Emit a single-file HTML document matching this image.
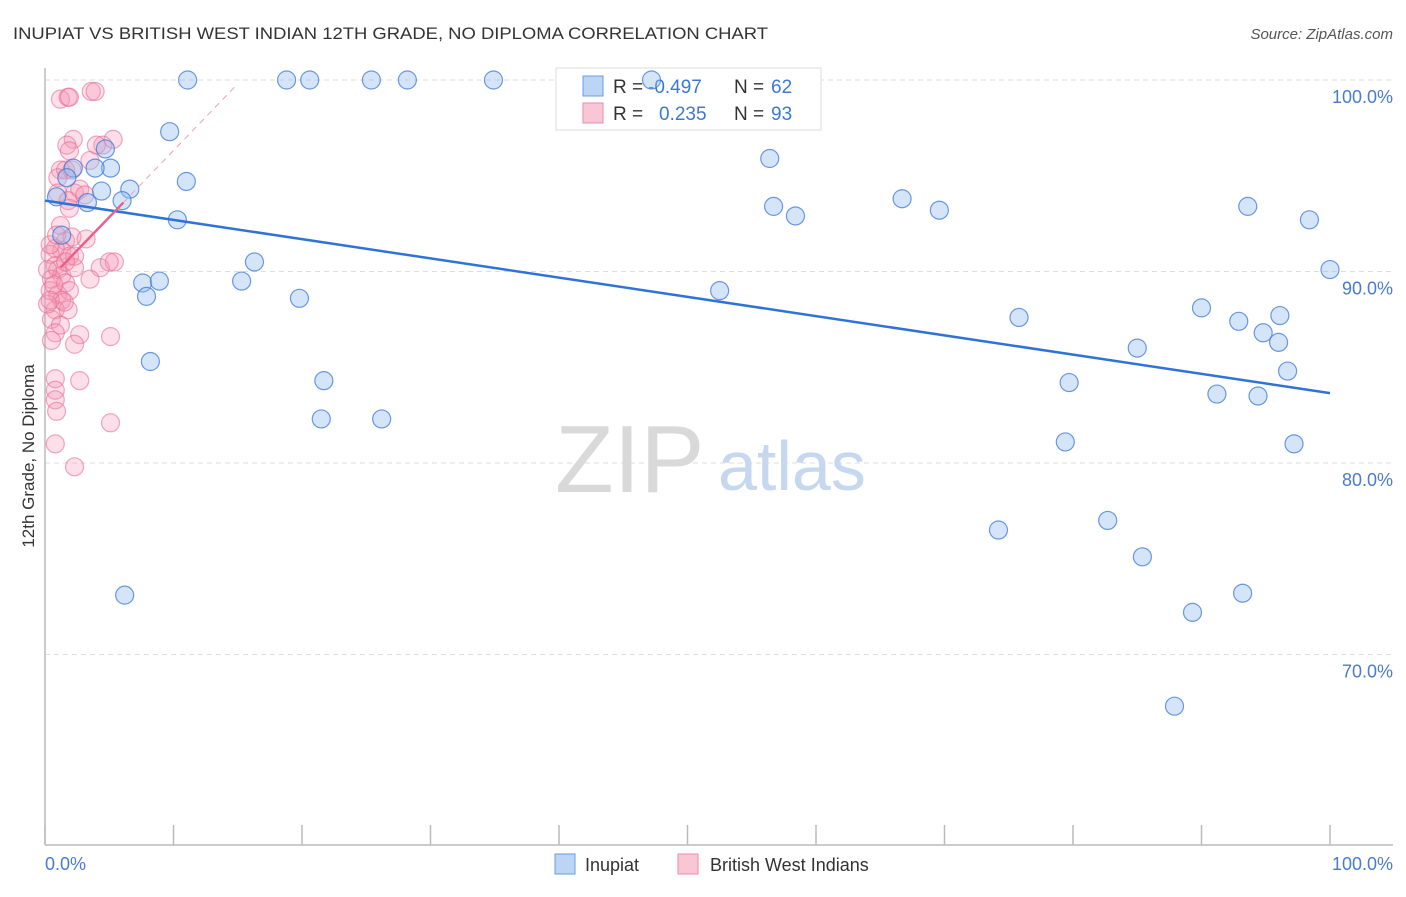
<!DOCTYPE html>
<html><head><meta charset="utf-8"><style>
body{margin:0;background:#fff;font-family:"Liberation Sans",sans-serif;}
svg text{font-family:"Liberation Sans",sans-serif;}
</style></head><body>
<svg id="chart" width="1406" height="892" viewBox="0 0 1406 892" xmlns="http://www.w3.org/2000/svg">
<text x="13" y="39" font-size="17" fill="#333" textLength="755" lengthAdjust="spacingAndGlyphs">INUPIAT VS BRITISH WEST INDIAN 12TH GRADE, NO DIPLOMA CORRELATION CHART</text>
<text x="1393" y="39" font-size="15" fill="#555" text-anchor="end" font-style="italic">Source: ZipAtlas.com</text>
<g id="grid"></g>
<g>
<text x="555" y="492" font-size="96" fill="#d9d9d9" font-family="Liberation Serif, serif">ZIP</text>
<text x="718" y="490" font-size="70" fill="#c5d8f0">atlas</text>
</g>
<line x1="45" y1="68" x2="45" y2="845" stroke="#bbb" stroke-width="1.5"/>
<line x1="45" y1="845" x2="1393" y2="845" stroke="#bbb" stroke-width="1.5"/>
<g id="ticks"></g>
<g>
<rect x="556" y="68" width="265" height="62" fill="#fff" stroke="#ddd"/>
<rect x="583" y="76" width="20" height="20" fill="#bcd5f5" stroke="#6a9be0"/>
<rect x="583" y="103" width="20" height="20" fill="#f9c6d6" stroke="#ec8aa9"/>
<text x="613" y="93" font-size="19" fill="#333">R = </text><text x="648" y="93" font-size="19" fill="#3a78d8">-0.497</text>
<text x="734" y="93" font-size="19" fill="#333">N = </text><text x="771" y="93" font-size="19" fill="#3a78d8">62</text>
<text x="613" y="120" font-size="19" fill="#333">R = </text><text x="659" y="120" font-size="19" fill="#3a78d8">0.235</text>
<text x="734" y="120" font-size="19" fill="#333">N = </text><text x="771" y="120" font-size="19" fill="#3a78d8">93</text>
</g>
<g id="pinkpts"></g>
<g id="bluepts"></g>
<g id="lines"></g>
<text transform="translate(34,456) rotate(-90)" font-size="17" fill="#333" text-anchor="middle">12th Grade, No Diploma</text>
<text x="45" y="870" font-size="18" fill="#4a7bd0">0.0%</text>
<text x="1393" y="870" font-size="18" fill="#4a7bd0" text-anchor="end">100.0%</text>
<g>
<rect x="555" y="854" width="20" height="20" fill="#bcd5f5" stroke="#6a9be0"/>
<text x="585" y="871" font-size="18" fill="#333">Inupiat</text></g>
<g>
<rect x="678" y="854" width="20" height="20" fill="#f9c6d6" stroke="#ec8aa9"/>
<text x="710" y="871" font-size="18" fill="#333">British West Indians</text></g>
</svg>
<script>
const yTicks=[100,90,80,70];
const yTickLabels=["100.0%","90.0%","80.0%","70.0%"];
const blueX=[11.1,18.8,20.6,25.4,28.2,34.9,47.2,9.7,4.7,5.1,3.9,2.2,1.7,4.4,6.6,0.9,3.3,6.0,11.0,10.3,1.3,16.3,7.6,8.9,15.3,7.9,19.8,8.2,21.7,21.5,26.2,6.2,56.4,56.7,58.4,66.7,69.6,52.5,93.6,98.4,100.0,90.0,75.8,92.9,96.1,94.8,96.0,85.0,96.7,79.7,91.2,94.4,79.4,97.2,74.2,82.7,85.4,89.3,93.2,87.9];
const blueY=[100,100,100,100,100,100,100,97.3,96.4,95.4,95.4,95.4,94.9,94.2,94.3,93.9,93.6,93.7,94.7,92.7,91.9,90.5,89.4,89.5,89.5,88.7,88.6,85.3,84.3,82.3,82.3,73.1,95.9,93.4,92.9,93.8,93.2,89.0,93.4,92.7,90.1,88.1,87.6,87.4,87.7,86.8,86.3,86.0,84.8,84.2,83.6,83.5,81.1,81.0,76.5,77.0,75.1,72.2,73.2,67.3];
const pinkX=[1.2,1.8,1.9,3.6,3.9,2.2,1.7,1.9,1.2,1.6,2.1,1.0,3.5,4.5,5.3,4.0,1.0,2.3,2.7,1.8,3.1,1.9,1.2,1.6,2.1,3.2,1.3,1.9,0.8,0.4,0.8,1.0,1.3,0.5,1.6,2.3,0.4,1.0,1.9,1.3,0.8,1.8,0.5,1.2,0.8,2.7,2.3,0.5,4.3,5.4,5.0,3.5,5.1,0.8,2.7,0.8,0.8,0.9,0.8,5.1,2.3,1.5,0.2,0.2,0.4,0.9,2.3,1.6,0.7,0.4];
const pinkY=[99.0,99.1,99.1,99.4,99.4,96.9,96.6,96.3,95.3,95.3,95.3,94.9,95.8,96.6,96.9,96.6,94.1,94.1,94.3,93.7,94.0,93.3,92.4,91.6,91.8,91.7,91.1,90.8,91.2,90.9,90.3,90.1,89.8,89.6,89.4,90.2,89.0,88.8,89.0,88.5,88.0,88.0,87.5,87.2,86.8,86.7,86.2,86.4,90.2,90.5,90.5,89.6,86.6,84.4,84.3,83.8,83.3,82.7,81.0,82.1,79.8,88.4,88.3,90.1,91.4,91.9,90.8,90.5,89.3,88.5];
const blueTrend=[[0,93.7],[100,83.65]];
const pinkTrend=[[1.2,90.2],[6.1,93.6]];
const pinkTrendExt=[[6.1,93.6],[15,99.8]];
const NS="http://www.w3.org/2000/svg";
const xs=p=>45+p*12.85, ys=v=>80+(100-v)*19.15;
function mk(t,a,parent){const e=document.createElementNS(NS,t);for(const k in a)e.setAttribute(k,a[k]);document.getElementById(parent).appendChild(e);return e;}
yTicks.forEach((v,i)=>{
 const l=mk('line',{x1:45,x2:1393,y1:ys(v),y2:ys(v),stroke:'#ddd','stroke-dasharray':'5,4'},'grid');
 
 
 const t=mk('text',{x:1393,y:ys(v)+23,'font-size':18,fill:'#4a7bd0','text-anchor':'end'},'grid');t.textContent=yTickLabels[i];
 
 
});
for(let i=0;i<=10;i++){const l=mk('line',{x1:xs(i*10),x2:xs(i*10),y1:825,y2:845,stroke:'#bbb','stroke-width':1.5},'ticks');
 
 }
pinkX.forEach((x,i)=>{const c=mk('circle',{cx:xs(x),cy:ys(pinkY[i]),r:9,fill:'rgba(244,150,180,0.3)',stroke:'rgba(232,110,150,0.6)','stroke-width':1.2},'pinkpts');
 
 });
blueX.forEach((x,i)=>{const c=mk('circle',{cx:xs(x),cy:ys(blueY[i]),r:9,fill:'rgba(150,190,240,0.4)',stroke:'rgba(60,120,215,0.75)','stroke-width':1.2},'bluepts');
 
 });
function ln(d,st,w,dash,name){const l=mk('line',{x1:xs(d[0][0]),y1:ys(d[0][1]),x2:xs(d[1][0]),y2:ys(d[1][1]),stroke:st,'stroke-width':w},'lines');if(dash)l.setAttribute('stroke-dasharray',dash);
 
 }
ln(blueTrend,'#2f73d8',2.5,null,'inupiat-trend-line');
ln(pinkTrend,'#e8608a',2.5,null,'bwi-trend-line');
ln(pinkTrendExt,'#eaa0b8',1,'6,5','bwi-trend-extension');
</script>
</body></html>
